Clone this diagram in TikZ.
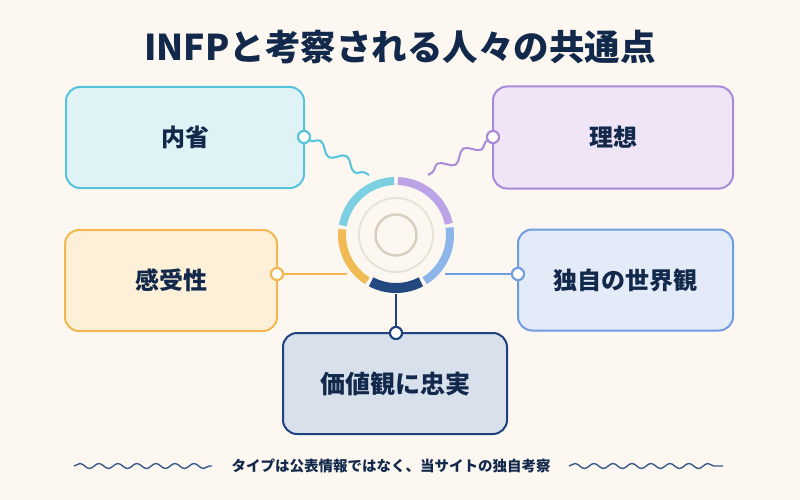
\documentclass[tikz,border=0pt]{standalone}
\usepackage{fontspec}
\newfontfamily\jp{Noto Sans CJK JP}
\usetikzlibrary{decorations.pathmorphing}
\definecolor{bgc}{HTML}{FCF8F1}
\definecolor{ink}{HTML}{13294B}
\definecolor{cyB}{HTML}{56C3DD}\definecolor{cyF}{HTML}{DFF3F7}\definecolor{cyR}{HTML}{7DD0E2}
\definecolor{puB}{HTML}{A98AD9}\definecolor{puF}{HTML}{EFE5F7}\definecolor{puR}{HTML}{BBA3E6}
\definecolor{yeB}{HTML}{F2B84F}\definecolor{yeF}{HTML}{FDF0D8}\definecolor{yeR}{HTML}{F2BA55}
\definecolor{blB}{HTML}{6E9DE0}\definecolor{blF}{HTML}{E3EBF8}\definecolor{blR}{HTML}{8EB5EA}
\definecolor{nvB}{HTML}{1F4180}\definecolor{nvF}{HTML}{D8E0EC}\definecolor{nvR}{HTML}{23477F}
\definecolor{ringA}{HTML}{E9E3D7}\definecolor{ringB}{HTML}{D9CFC0}
\definecolor{wave}{HTML}{3A5A8C}
\begin{document}
\begin{tikzpicture}[x=1pt,y=-1pt,
  card/.style={draw, line width=2pt, rounded corners=14pt, text=ink,
    font=\jp\bfseries\fontsize{24}{28}\selectfont, inner sep=0pt},
  dot/.style={circle, draw, line width=2pt, fill=white, minimum size=12pt, inner sep=0pt},
  link/.style={line width=2pt},
  wavy/.style={decorate, decoration={snake, amplitude=5pt, segment length=30pt}},
  footwave/.style={draw=wave, line width=1.4pt, decorate, decoration={snake, amplitude=2.5pt, segment length=19pt}}]
\fill[bgc] (0,0) rectangle (800,500);
\useasboundingbox (0,0) rectangle (800,500);

% title
\node[text=ink, font=\jp\bfseries\fontsize{35.5}{42}\selectfont] (title) at (400,47) {INFPと考察される人々の共通点};

% cards
\node[card, draw=cyB, fill=cyF, minimum width=238pt, minimum height=101pt] (c1) at (185,137.5) {内省};
\node[card, draw=puB, fill=puF, minimum width=240pt, minimum height=102pt] (c2) at (613,137.5) {理想};
\node[card, draw=yeB, fill=yeF, minimum width=212pt, minimum height=101pt] (c3) at (171,280.5) {感受性};
\node[card, draw=blB, fill=blF, minimum width=215pt, minimum height=101pt] (c4) at (625.5,280) {独自の世界観};
\node[card, draw=nvB, fill=nvF, minimum width=224pt, minimum height=101pt, font=\jp\bfseries\fontsize{25}{30}\selectfont] (c5) at (395,383.5) {価値観に忠実};

% ring
\begin{scope}[shift={(396,235)}, y=1pt]
  \coordinate (hub) at (0,0);
  \draw[ringA, line width=2pt] (0,0) circle[radius=37];
  \draw[ringB, line width=2.5pt] (0,0) circle[radius=20.5];
  \draw[cyR, line width=8pt] (92:54) arc[start angle=92, end angle=170, radius=54];
  \draw[yeR, line width=8pt] (174:54) arc[start angle=174, end angle=238, radius=54];
  \draw[nvR, line width=10pt] (242:53) arc[start angle=242, end angle=298, radius=53];
  \draw[blR, line width=8pt] (302:54) arc[start angle=302, end angle=368, radius=54];
  \draw[puR, line width=8pt] (12:54) arc[start angle=12, end angle=88, radius=54];
\end{scope}

% connector ends
\coordinate (e1) at (369,175);
\coordinate (e2) at (428,175);
\coordinate (e3) at (347,274);
\coordinate (e4) at (445,274);
\coordinate (e5) at (396,294);

\node[dot, draw=cyB] (d1) at (304,137) {};
\node[dot, draw=puB] (d2) at (493,137) {};
\node[dot, draw=yeB] (d3) at (277,274) {};
\node[dot, draw=blB] (d4) at (518,274) {};
\node[dot, draw=nvB] (d5) at (396,333) {};

\draw[link, cyB, wavy] (d1) -- (e1);
\draw[link, puB, wavy] (d2) -- (e2);
\draw[link, yeB] (d3) -- (e3);
\draw[link, blB] (d4) -- (e4);
\draw[link, nvB] (d5) -- (e5);

% redraw dots on top
\node[dot, draw=cyB] at (d1) {};
\node[dot, draw=puB] at (d2) {};
\node[dot, draw=yeB] at (d3) {};
\node[dot, draw=blB] at (d4) {};
\node[dot, draw=nvB] at (d5) {};

% footer
\node[text=ink, font=\jp\bfseries\fontsize{14.5}{17}\selectfont] (foot) at (391,466) {タイプは公表情報ではなく、当サイトの独自考察};
\coordinate (w1a) at (74,466); \coordinate (w1b) at (212,466);
\coordinate (w2a) at (569,466); \coordinate (w2b) at (723,466);
\draw[footwave] (w1a) -- (w1b);
\draw[footwave] (w2a) -- (w2b);
\end{tikzpicture}
\end{document}
